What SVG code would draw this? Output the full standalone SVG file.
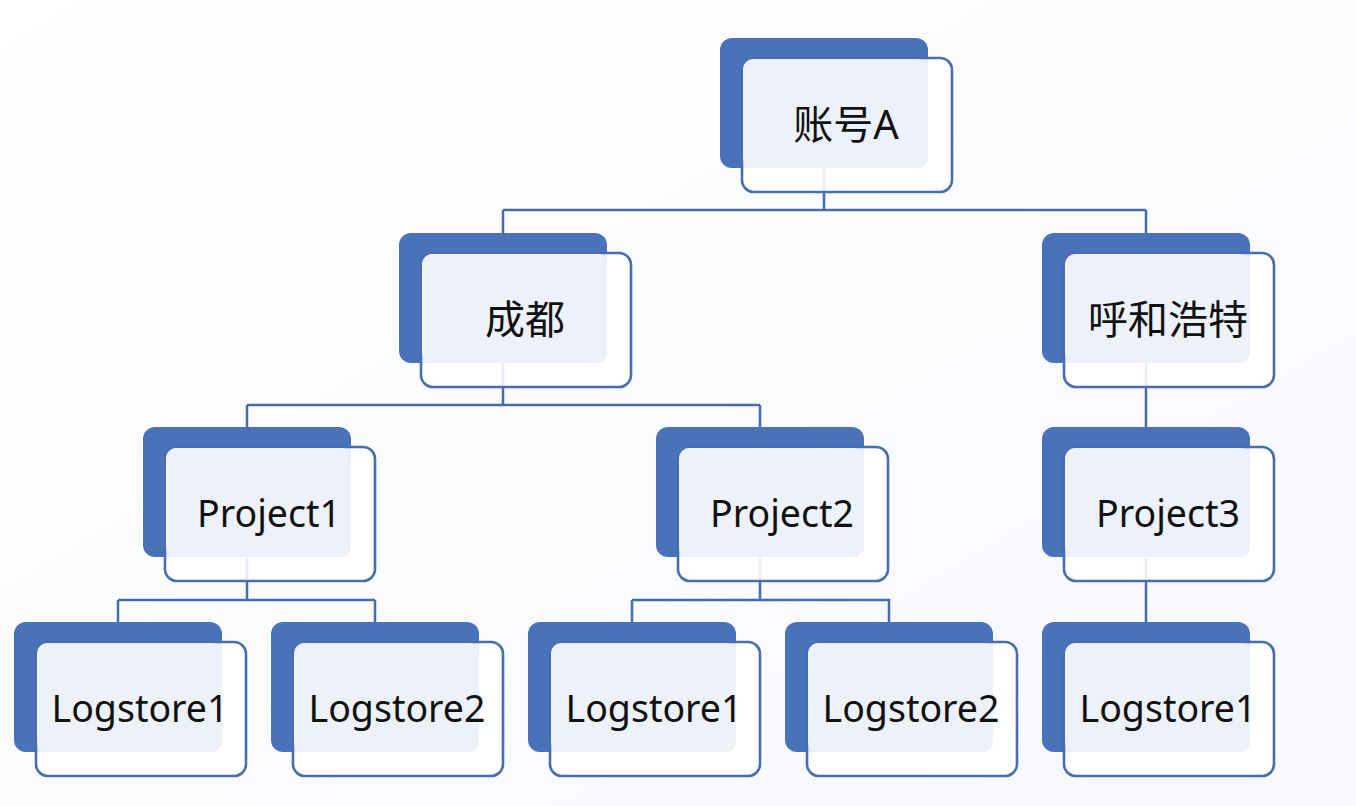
<svg xmlns="http://www.w3.org/2000/svg" width="1356" height="806" viewBox="0 0 1356 806">
<defs>
<linearGradient id="bg" x1="0" y1="0" x2="1" y2="1">
<stop offset="0" stop-color="#ffffff"/>
<stop offset="1" stop-color="#f6f8fc"/>
</linearGradient>
</defs>
<style>
.back{fill:#4a72bb}
.front{fill:#ffffff;fill-opacity:0.88;stroke:#4a6db0;stroke-width:2.6}
.inner{fill:#edf1f9}
.lbl{font-family:"Noto Sans","Noto Sans CJK SC",sans-serif;font-size:37.5px;fill:#111;text-anchor:middle}
.cjk{font-size:40px}
.conn{fill:none;stroke:#4a6aab;stroke-width:2.5}
</style>
<rect width="1356" height="806" fill="url(#bg)"/>
<g id="connectors">
<path class="conn" d="M824 168V210M503 210H1146M503 210V233M1146 210V233M503 363V405M247 405H760M247 405V427M760 405V427M1146 363V427M247 558V600M118 600H375M118 600V622M375 600V622M760 558V600M632 600H889V622M632 600V622M1146 558V622"/>
</g>
<g id="root" transform="translate(720,38)">
<rect class="back" width="208" height="130" rx="12"/>
<rect class="front" x="22" y="20" width="210" height="134" rx="12"/>
<rect class="inner" x="23" y="21" width="185" height="109" rx="10"/>
<text class="lbl cjk" x="126" y="101">账号A</text>
</g>
<g id="chengdu" transform="translate(399,233)">
<rect class="back" width="208" height="130" rx="12"/>
<rect class="front" x="22" y="20" width="210" height="134" rx="12"/>
<rect class="inner" x="23" y="21" width="185" height="109" rx="10"/>
<text class="lbl cjk" x="126" y="101">成都</text>
</g>
<g id="huhehaote" transform="translate(1042,233)">
<rect class="back" width="208" height="130" rx="12"/>
<rect class="front" x="22" y="20" width="210" height="134" rx="12"/>
<rect class="inner" x="23" y="21" width="185" height="109" rx="10"/>
<text class="lbl cjk" x="126" y="101">呼和浩特</text>
</g>
<g id="project1" transform="translate(143,427)">
<rect class="back" width="208" height="130" rx="12"/>
<rect class="front" x="22" y="20" width="210" height="134" rx="12"/>
<rect class="inner" x="23" y="21" width="185" height="109" rx="10"/>
<text class="lbl" x="126" y="100">Project1</text>
</g>
<g id="project2" transform="translate(656,427)">
<rect class="back" width="208" height="130" rx="12"/>
<rect class="front" x="22" y="20" width="210" height="134" rx="12"/>
<rect class="inner" x="23" y="21" width="185" height="109" rx="10"/>
<text class="lbl" x="126" y="100">Project2</text>
</g>
<g id="project3" transform="translate(1042,427)">
<rect class="back" width="208" height="130" rx="12"/>
<rect class="front" x="22" y="20" width="210" height="134" rx="12"/>
<rect class="inner" x="23" y="21" width="185" height="109" rx="10"/>
<text class="lbl" x="126" y="100">Project3</text>
</g>
<g id="p1-logstore1" transform="translate(14,622)">
<rect class="back" width="208" height="130" rx="12"/>
<rect class="front" x="22" y="20" width="210" height="134" rx="12"/>
<rect class="inner" x="23" y="21" width="185" height="109" rx="10"/>
<text class="lbl" x="126" y="100">Logstore1</text>
</g>
<g id="p1-logstore2" transform="translate(271,622)">
<rect class="back" width="208" height="130" rx="12"/>
<rect class="front" x="22" y="20" width="210" height="134" rx="12"/>
<rect class="inner" x="23" y="21" width="185" height="109" rx="10"/>
<text class="lbl" x="126" y="100">Logstore2</text>
</g>
<g id="p2-logstore1" transform="translate(528,622)">
<rect class="back" width="208" height="130" rx="12"/>
<rect class="front" x="22" y="20" width="210" height="134" rx="12"/>
<rect class="inner" x="23" y="21" width="185" height="109" rx="10"/>
<text class="lbl" x="126" y="100">Logstore1</text>
</g>
<g id="p2-logstore2" transform="translate(785,622)">
<rect class="back" width="208" height="130" rx="12"/>
<rect class="front" x="22" y="20" width="210" height="134" rx="12"/>
<rect class="inner" x="23" y="21" width="185" height="109" rx="10"/>
<text class="lbl" x="126" y="100">Logstore2</text>
</g>
<g id="p3-logstore1" transform="translate(1042,622)">
<rect class="back" width="208" height="130" rx="12"/>
<rect class="front" x="22" y="20" width="210" height="134" rx="12"/>
<rect class="inner" x="23" y="21" width="185" height="109" rx="10"/>
<text class="lbl" x="126" y="100">Logstore1</text>
</g>
</svg>
